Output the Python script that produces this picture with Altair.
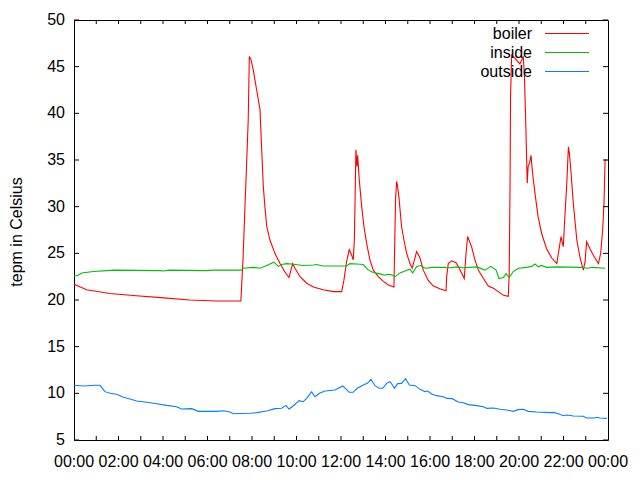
import altair as alt
import pandas as pd

# ---- data (hours since midnight, degrees Celsius) ----
boiler_h = [0, 0.57, 1.6, 2.8, 3.9, 5.2, 6.4, 7.5, 7.6, 7.69,
            7.76, 7.83, 7.88, 7.96, 8.06, 8.21, 8.36, 8.43, 8.51, 8.58,
            8.66, 8.81, 9.03, 9.26, 9.48, 9.66, 9.83, 9.93, 10.16, 10.46,
            10.76, 11.2, 11.65, 12.03, 12.13, 12.25, 12.37, 12.48, 12.55, 12.6,
            12.63, 12.67, 12.72, 12.75, 12.82, 12.93, 13.03, 13.15, 13.3, 13.45,
            13.68, 13.9, 14.13, 14.38, 14.45, 14.5, 14.54, 14.6, 14.72, 14.83,
            14.95, 15.1, 15.2, 15.3, 15.4, 15.55, 15.7, 15.92, 16.15, 16.45,
            16.72, 16.75, 16.82, 16.97, 17.17, 17.27, 17.42, 17.54, 17.62, 17.69,
            17.87, 18.02, 18.17, 18.4, 18.62, 18.85, 19.07, 19.3, 19.52, 19.56,
            19.6, 19.62, 19.67, 19.82, 20.04, 20.19, 20.24, 20.3, 20.37, 20.41,
            20.49, 20.54, 20.61, 20.72, 20.86, 21.02, 21.24, 21.47, 21.7, 21.77,
            21.89, 21.99, 22.07, 22.14, 22.22, 22.27, 22.34, 22.44, 22.6, 22.74,
            22.89, 22.97, 23.04, 23.19, 23.34, 23.57, 23.67, 23.76, 23.82, 23.87,
            23.94]
boiler_v = [21.7, 21.1, 20.7, 20.46, 20.25, 20.0, 19.9, 19.9, 24.6, 30.4,
            34.7, 39.3, 46.1, 45.7, 44.6, 42.5, 40.4, 36.4, 32.1, 30.0,
            27.9, 26.4, 25.0, 23.9, 23.0, 22.4, 23.9, 23.4, 22.5, 21.8,
            21.4, 21.1, 20.9, 20.9, 22.1, 24.1, 25.4, 24.8, 24.3, 26.4,
            30.4, 36.1, 34.3, 35.5, 32.9, 30.0, 27.9, 26.1, 24.3, 23.2,
            22.5, 22.0, 21.6, 21.4, 30.7, 32.7, 32.2, 31.1, 27.9, 26.4,
            25.0, 23.9, 23.4, 24.3, 25.2, 24.5, 23.2, 22.1, 21.5, 21.2,
            21.0, 22.5, 23.9, 24.2, 24.0, 23.6, 22.9, 22.3, 25.0, 26.8,
            25.7, 24.3, 23.2, 22.3, 21.5, 21.25, 20.9, 20.5, 20.4, 22.9,
            33.2, 41.8, 46.25, 45.9, 45.3, 46.1, 44.3, 39.3, 32.5, 34.3,
            34.8, 35.5, 33.6, 31.4, 28.9, 27.1, 25.5, 24.5, 23.9, 25.0,
            26.8, 25.7, 29.3, 32.1, 36.4, 35.6, 33.6, 30.4, 26.4, 24.6,
            23.2, 24.1, 26.25, 25.5, 24.8, 23.9, 25.0, 27.5, 30.4, 35.0,
            35.0]

inside_h = [0, 0.15, 0.35, 0.87, 1.47, 1.77, 3.87, 4.0, 4.31, 5.96,
            6.26, 7.53, 7.61, 8.06, 8.36, 8.66, 8.99, 9.18, 9.33, 9.56,
            9.78, 10.3, 10.76, 10.9, 11.2, 11.96, 12.25, 12.4, 12.7, 13.0,
            13.23, 13.45, 13.75, 13.98, 14.1, 14.28, 14.43, 14.65, 14.88, 15.1,
            15.22, 15.4, 15.58, 15.78, 16.1, 16.45, 16.9, 17.2, 17.5, 18.1,
            18.47, 18.73, 18.97, 19.1, 19.3, 19.42, 19.56, 19.74, 19.97, 20.34,
            20.57, 20.72, 20.87, 21.0, 21.24, 21.7, 22.8, 23.1, 23.3, 23.87]
inside_v = [22.6, 22.6, 22.9, 23.05, 23.15, 23.2, 23.15, 23.1, 23.2, 23.15,
            23.2, 23.2, 23.4, 23.5, 23.4, 23.7, 24.05, 23.6, 23.8, 23.9,
            23.85, 23.7, 23.75, 23.8, 23.65, 23.65, 23.65, 23.9, 23.85, 23.8,
            23.2, 22.95, 22.8, 22.65, 22.75, 22.7, 22.5, 22.9, 23.1, 23.3,
            22.9, 23.6, 23.7, 23.4, 23.5, 23.5, 23.45, 23.55, 23.45, 23.55,
            23.2, 23.6, 23.2, 22.3, 22.4, 22.85, 22.4, 23.05, 23.4, 23.5,
            23.6, 23.85, 23.55, 23.7, 23.5, 23.55, 23.5, 23.4, 23.5, 23.4]

outside_h = [0, 0.42, 0.94, 1.17, 1.24, 1.39, 1.62, 1.92, 2.22, 2.52,
             2.82, 3.27, 3.72, 4.16, 4.61, 4.84, 5.29, 5.59, 6.41, 6.71,
             7.01, 7.16, 7.91, 8.21, 8.66, 9.03, 9.33, 9.53, 9.66, 9.85,
             10.12, 10.3, 10.46, 10.68, 10.83, 11.03, 11.28, 11.73, 12.07, 12.2,
             12.37, 12.55, 12.73, 13.0, 13.18, 13.35, 13.53, 13.72, 13.87, 14.05,
             14.2, 14.28, 14.4, 14.55, 14.72, 14.9, 15.07, 15.33, 15.55, 15.77,
             15.9, 16.07, 16.3, 16.6, 16.75, 17.0, 17.27, 17.5, 17.72, 18.1,
             18.4, 18.55, 18.85, 19.15, 19.45, 19.74, 19.97, 20.2, 20.42, 20.79,
             21.39, 21.54, 21.77, 21.99, 22.17, 22.44, 22.89, 23.04, 23.41, 23.49,
             23.64, 23.95]
outside_v = [10.86, 10.78, 10.86, 10.86, 10.64, 10.18, 10.0, 9.9, 9.57, 9.39,
             9.18, 9.04, 8.89, 8.71, 8.57, 8.32, 8.36, 8.07, 8.07, 8.14,
             8.0, 7.82, 7.86, 7.93, 8.1, 8.36, 8.4, 8.71, 8.32, 8.64,
             9.21, 9.1, 9.46, 10.18, 9.64, 10.0, 10.25, 10.36, 10.79, 10.54,
             10.11, 10.11, 10.54, 10.89, 11.07, 11.5, 10.82, 10.54, 10.54, 11.07,
             11.25, 11.0, 10.54, 11.04, 11.07, 11.57, 10.89, 10.82, 10.43, 10.18,
             10.25, 9.93, 9.75, 9.64, 9.46, 9.43, 9.07, 9.0, 8.79, 8.68,
             8.57, 8.39, 8.43, 8.29, 8.21, 8.07, 8.25, 8.29, 8.07, 8.0,
             7.93, 7.96, 7.82, 7.6, 7.68, 7.57, 7.54, 7.36, 7.36, 7.43,
             7.36, 7.32]

series_names = ["boiler", "inside", "outside"]
series_colors = ["#ff0000", "#00c000", "#0080ff"]
y_ticks = [5, 10, 15, 20, 25, 30, 35, 40, 45, 50]
x_label_hours = [0, 2, 4, 6, 8, 10, 12, 14, 16, 18, 20, 22, 24]
x_labels = ["00:00", "02:00", "04:00", "06:00", "08:00", "10:00", "12:00",
            "14:00", "16:00", "18:00", "20:00", "22:00", "00:00"]
x_tick_hours = list(range(1, 24))
y_title = "tepm in Celsius"

FONT = "Liberation Sans"
FS = 16
W, H = 534, 420

frames = []
for i, (hs, vs) in enumerate([(boiler_h, boiler_v), (inside_h, inside_v), (outside_h, outside_v)]):
    n = min(len(hs), len(vs))
    frames.append(pd.DataFrame({"hour": hs[:n], "temp": vs[:n],
                                "series": series_names[i], "k": i}))
df = pd.concat(frames, ignore_index=True)

x_scale = alt.Scale(domain=[0, 24], nice=False, zero=False)
y_scale = alt.Scale(domain=[5, 50], nice=False, zero=False)
c_scale = alt.Scale(domain=series_names, range=series_colors)

lines = alt.Chart(df).mark_line(strokeWidth=1.1, interpolate="linear").encode(
    x=alt.X("hour:Q", scale=x_scale, axis=None),
    y=alt.Y("temp:Q", scale=y_scale, axis=None),
    color=alt.Color("series:N", scale=c_scale, legend=None),
    detail="k:N",
)

yt = pd.DataFrame({"v": y_ticks, "lab": [str(v) for v in y_ticks]})
xt = pd.DataFrame({"h": x_tick_hours})
xl = pd.DataFrame({"h": x_label_hours, "lab": x_labels})

tick_l = alt.Chart(yt).mark_rule(color="black", strokeWidth=1).encode(
    y=alt.Y("v:Q", scale=y_scale, axis=None), x=alt.value(0), x2=alt.value(5))
tick_r = alt.Chart(yt).mark_rule(color="black", strokeWidth=1).encode(
    y=alt.Y("v:Q", scale=y_scale, axis=None), x=alt.value(W - 5), x2=alt.value(W))
tick_b = alt.Chart(xt).mark_rule(color="black", strokeWidth=1).encode(
    x=alt.X("h:Q", scale=x_scale, axis=None), y=alt.value(H), y2=alt.value(H - 4))
tick_t = alt.Chart(xt).mark_rule(color="black", strokeWidth=1).encode(
    x=alt.X("h:Q", scale=x_scale, axis=None), y=alt.value(0), y2=alt.value(4))

ylab = alt.Chart(yt).mark_text(align="right", baseline="middle", font=FONT,
                               fontSize=FS, color="#000000").encode(
    y=alt.Y("v:Q", scale=y_scale, axis=None), x=alt.value(-9), text="lab:N")
xlab = alt.Chart(xl).mark_text(align="center", baseline="alphabetic", font=FONT,
                               fontSize=FS, color="#000000").encode(
    x=alt.X("h:Q", scale=x_scale, axis=None), y=alt.value(H + 27), text="lab:N")
ytitle = alt.Chart(pd.DataFrame({"t": [y_title]})).mark_text(
    align="center", baseline="middle", angle=270, font=FONT, fontSize=FS,
    color="#000000").encode(x=alt.value(-57), y=alt.value(H / 2 + 2), text="t:N")

legend_layers = []
for i, (name, col) in enumerate(zip(series_names, series_colors)):
    ld = pd.DataFrame({"s": [name], "c": [col]})
    yy = 13.5 + 19 * i
    legend_layers.append(
        alt.Chart(ld).mark_text(align="right", baseline="middle", font=FONT,
                                fontSize=FS, color="#000000").encode(
            text="s:N", x=alt.value(458), y=alt.value(yy)))
    legend_layers.append(
        alt.Chart(ld).mark_rule(strokeWidth=1.1).encode(
            x=alt.value(471), x2=alt.value(515), y=alt.value(yy),
            color=alt.value(col)))

chart = alt.layer(lines, tick_l, tick_r, tick_b, tick_t, ylab, xlab, ytitle,
                  *legend_layers).properties(
    width=W, height=H,
    autosize=alt.AutoSizeParams(type="none"),
    padding={"left": 66, "top": 12, "right": 24, "bottom": 32},
    background="white",
).configure_view(stroke="black", strokeWidth=1)

chart.save("out.html", embed_options={"renderer": "svg", "actions": False})
